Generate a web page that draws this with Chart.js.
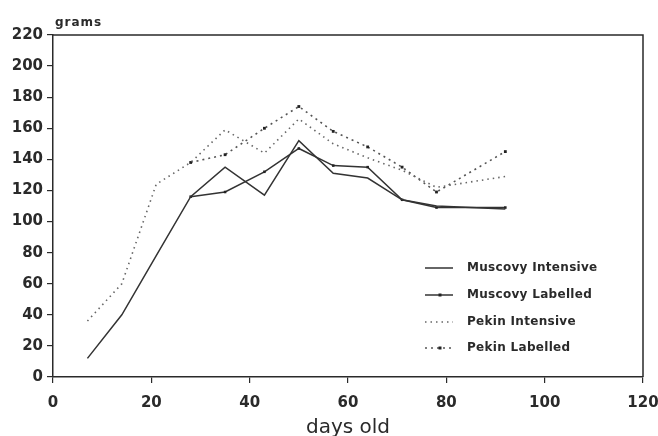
<!DOCTYPE html>
<html>
<head>
<meta charset="utf-8">
<script src="https://cdn.jsdelivr.net/npm/chart.js@4.4.1/dist/chart.umd.min.js"></script>
<style>
  html, body { margin: 0; padding: 0; background: #fff; }
  canvas { display: block; }
</style>
</head>
<body>
<canvas id="duckChart" width="658" height="436"></canvas>
<script>
// days at which birds were weighed
const days = [7, 14, 21, 28, 35, 43, 50, 57, 64, 71, 78, 92];
const labelledDays = [28, 35, 43, 50, 57, 64, 71, 78, 92];

// weights in grams
const muscovyIntensive = [12, 40, 78, 116, 135, 117, 152, 131, 128, 114, 110, 108];
const muscovyLabelled = [116, 119, 132, 147, 136, 135, 114, 109, 109];
const pekinIntensive = [36, 60, 124, 138, 159, 144, 166, 150, 141, 133, 122, 129];
const pekinLabelled = [138, 143, 160, 174, 158, 148, 135, 119, 145];

const xTicks = [0, 20, 40, 60, 80, 100, 120];
const yTicks = [0, 20, 40, 60, 80, 100, 120, 140, 160, 180, 200, 220];

const ink = '#2a2a2a';
const tickFont = { family: 'DejaVu Sans', size: 15, weight: 'bold' };

function toPoints(xs, ys) {
    return xs.map((x, i) => ({ x: x, y: ys[i] }));
}

// frame, "grams" label and the legend inside the plot
const extras = {
    id: 'extras',
    afterDraw(chart) {
        const ctx = chart.ctx;
        const a = chart.chartArea;
        ctx.save();
        ctx.strokeStyle = ink;
        ctx.lineWidth = 1.5;
        ctx.beginPath();
        ctx.moveTo(a.left, a.top);
        ctx.lineTo(a.right, a.top);
        ctx.lineTo(a.right, a.bottom);
        ctx.stroke();

        ctx.fillStyle = ink;
        ctx.font = 'bold 12px "DejaVu Sans"';
        ctx.letterSpacing = '1px';
        ctx.textBaseline = 'alphabetic';
        ctx.fillText('grams', 55, 26);

        ctx.font = 'bold 12px "DejaVu Sans"';
        ctx.letterSpacing = '0.3px';
        ctx.textBaseline = 'middle';
        const rowY = [268, 295, 322, 348];
        chart.data.datasets.forEach((ds, i) => {
            const y = rowY[i];
            ctx.strokeStyle = ds.borderColor;
            ctx.lineWidth = ds.borderWidth;
            ctx.setLineDash(ds.borderDash || []);
            ctx.beginPath();
            ctx.moveTo(425, y);
            ctx.lineTo(453, y);
            ctx.stroke();
            ctx.setLineDash([]);
            if (ds.pointRadius > 0) {
                ctx.fillStyle = ds.pointBackgroundColor;
                ctx.fillRect(440 - 1.5, y - 1.5, 3, 3);
            }
            ctx.fillStyle = ink;
            ctx.fillText(ds.label, 467, y);
        });
        ctx.restore();
    }
};

new Chart(document.getElementById('duckChart'), {
    type: 'line',
    data: {
        datasets: [{
            label: 'Muscovy Intensive',
            data: toPoints(days, muscovyIntensive),
            borderColor: '#333',
            borderWidth: 1.5,
            pointRadius: 0
        }, {
            label: 'Muscovy Labelled',
            data: toPoints(labelledDays, muscovyLabelled),
            borderColor: '#333',
            borderWidth: 1.5,
            pointRadius: 1.8,
            pointStyle: 'rect',
            pointBackgroundColor: '#222',
            pointBorderWidth: 0
        }, {
            label: 'Pekin Intensive',
            data: toPoints(days, pekinIntensive),
            borderColor: '#666',
            borderWidth: 1.6,
            borderDash: [1.5, 4],
            pointRadius: 0
        }, {
            label: 'Pekin Labelled',
            data: toPoints(labelledDays, pekinLabelled),
            borderColor: '#555',
            borderWidth: 1.6,
            borderDash: [2, 4],
            pointRadius: 2,
            pointStyle: 'rect',
            pointBackgroundColor: '#222',
            pointBorderWidth: 0
        }]
    },
    options: {
        responsive: false,
        animation: false,
        devicePixelRatio: 1,
        layout: { padding: { top: 35, right: 15, left: 0, bottom: 0 } },
        plugins: {
            legend: { display: false },
            tooltip: { enabled: false }
        },
        scales: {
            x: {
                type: 'linear',
                min: 0,
                max: 120,
                afterBuildTicks(scale) { scale.ticks = xTicks.map(v => ({ value: v })); },
                afterFit(scale) {
                    scale.height = 59;
                    scale.paddingLeft = 0;
                    scale.paddingRight = 0;
                },
                ticks: { color: ink, font: tickFont, padding: 11, maxRotation: 0 },
                grid: { display: true, drawOnChartArea: false, drawTicks: true, tickLength: 6, color: ink, lineWidth: 1.2 },
                border: { display: true, color: ink, width: 1.5 },
                title: {
                    display: true,
                    text: 'days old',
                    color: ink,
                    font: { family: 'DejaVu Sans', size: 20 },
                    padding: { top: 0, bottom: -4 }
                }
            },
            y: {
                min: 0,
                max: 220,
                afterBuildTicks(scale) { scale.ticks = yTicks.map(v => ({ value: v })); },
                afterFit(scale) {
                    scale.width = 53;
                    scale.paddingTop = 0;
                    scale.paddingBottom = 0;
                },
                ticks: { color: ink, font: tickFont, padding: 4 },
                grid: { display: true, drawOnChartArea: false, drawTicks: true, tickLength: 6, color: ink, lineWidth: 1.2 },
                border: { display: true, color: ink, width: 1.5 }
            }
        }
    },
    plugins: [extras]
});
</script>
</body>
</html>
